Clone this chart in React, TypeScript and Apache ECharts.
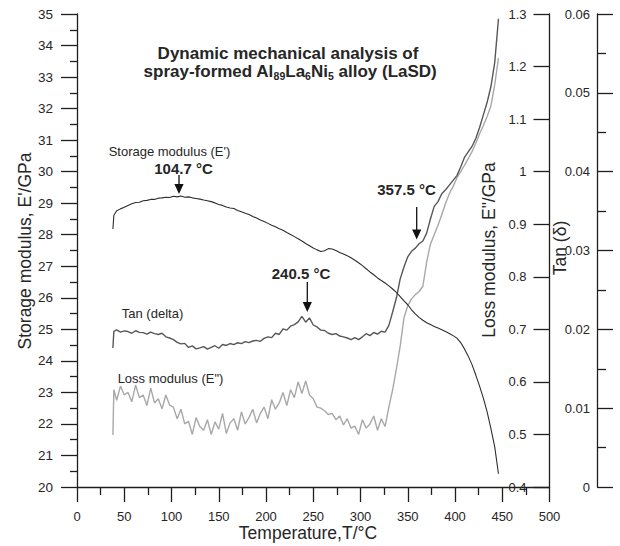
import React, { useEffect, useRef } from "react";
import * as echarts from "echarts";

// Temperature (°C) sample points shared by the three curves
const temps = [
  38, 39, 42, 46, 50, 54, 58, 62, 66, 70, 74, 78, 82, 86, 90, 94, 98, 102, 106, 110,
  114, 118, 122, 126, 130, 134, 138, 142, 146, 150, 154, 158, 162, 166, 170, 174, 178, 182, 186, 190,
  194, 198, 202, 206, 210, 214, 218, 222, 226, 230, 234, 238, 242, 246, 250, 254, 258, 262, 266, 270,
  274, 278, 282, 286, 290, 294, 298, 302, 306, 310, 314, 318, 322, 326, 330, 334, 338, 342, 346, 350,
  354, 358, 362, 366, 370, 374, 378, 382, 386, 390, 394, 398, 402, 406, 410, 414, 418, 422, 426, 430,
  434, 438, 442, 446,
];

// Storage modulus E' (GPa) — left axis
const storageModulus = [
  28.18, 28.62, 28.76, 28.82, 28.87, 28.93, 28.98, 29.02, 29.03, 29.08, 29.09, 29.12, 29.12, 29.16, 29.17, 29.19, 29.18, 29.22, 29.2, 29.23,
  29.19, 29.2, 29.17, 29.15, 29.13, 29.1, 29.08, 29.05, 29.01, 28.96, 28.93, 28.88, 28.85, 28.83, 28.77, 28.73, 28.68, 28.64, 28.58, 28.53,
  28.47, 28.42, 28.36, 28.3, 28.25, 28.19, 28.14, 28.07, 28.01, 27.94, 27.87, 27.8, 27.72, 27.65, 27.58, 27.52, 27.47, 27.49, 27.56, 27.55,
  27.5, 27.44, 27.39, 27.33, 27.27, 27.19, 27.11, 27.02, 26.92, 26.82, 26.73, 26.63, 26.55, 26.47, 26.38, 26.28, 26.17, 26.04, 25.9, 25.78,
  25.62, 25.49, 25.38, 25.29, 25.21, 25.15, 25.09, 25.04, 24.99, 24.93, 24.87, 24.8, 24.72, 24.58, 24.38, 24.15, 23.88, 23.55, 23.2, 22.82,
  22.38, 21.85, 21.28, 20.42,
];

// Tan delta — outer right axis
const tanDelta = [
  0.01763, 0.01975, 0.01992, 0.01965, 0.0198, 0.01972, 0.0195, 0.01982, 0.01962, 0.01958, 0.01938, 0.01965, 0.01945, 0.01935, 0.0195, 0.01905, 0.0189, 0.0187, 0.01835, 0.01815,
  0.01822, 0.0177, 0.0179, 0.01752, 0.01765, 0.0178, 0.01748, 0.0177, 0.01792, 0.0176, 0.01808, 0.01795, 0.0182, 0.01805, 0.0183, 0.01818, 0.01845, 0.01832, 0.01852, 0.0186,
  0.01848, 0.01885, 0.01905, 0.01895, 0.0195, 0.01935, 0.02005, 0.0199, 0.0204, 0.0206, 0.02095, 0.02165, 0.0209, 0.02145, 0.02055, 0.0203, 0.0199, 0.01985, 0.0195, 0.01935,
  0.01945, 0.01915, 0.01905, 0.0189, 0.0187, 0.01895, 0.0187, 0.01905, 0.01945, 0.0192, 0.0196, 0.0194, 0.01975, 0.01965, 0.0205, 0.0222, 0.024, 0.0264, 0.0279, 0.0292,
  0.0299, 0.0303, 0.03085, 0.0312, 0.0322, 0.034, 0.0356, 0.0362, 0.0372, 0.0377, 0.0383, 0.0389, 0.0395, 0.0406, 0.0418, 0.0425, 0.0432, 0.0442, 0.0456, 0.0472,
  0.0488, 0.0508, 0.0538, 0.0594,
];

// Loss modulus E'' (GPa) — inner right axis
const lossModulus = [
  0.499, 0.585, 0.565, 0.592, 0.575, 0.58, 0.562, 0.594, 0.57, 0.575, 0.555, 0.588, 0.56, 0.568, 0.549, 0.575, 0.556, 0.552, 0.53, 0.548,
  0.52, 0.525, 0.5, 0.532, 0.515, 0.508, 0.528, 0.5, 0.524, 0.51, 0.54, 0.502, 0.522, 0.53, 0.508, 0.543, 0.52, 0.532, 0.548, 0.522,
  0.54, 0.552, 0.53, 0.566, 0.548, 0.56, 0.58, 0.555, 0.585, 0.57, 0.6, 0.578, 0.602, 0.575, 0.568, 0.552, 0.55, 0.545, 0.538, 0.54,
  0.528, 0.535, 0.518, 0.53, 0.512, 0.516, 0.5, 0.528, 0.512, 0.52, 0.535, 0.508, 0.53, 0.515, 0.552, 0.585, 0.625, 0.668, 0.722, 0.745,
  0.758, 0.766, 0.772, 0.782, 0.828, 0.862, 0.88, 0.898, 0.918, 0.94, 0.958, 0.972, 0.988, 1.0, 1.012, 1.025, 1.038, 1.054, 1.072, 1.088,
  1.105, 1.125, 1.165, 1.216,
];

const FONT = "'Liberation Sans', Arial, Helvetica, sans-serif";
const AXIS = "#1e1e1e";
const TXT = "#262626";

function txt(x: number, y: number, text: string, size: number, bold = false, rotate = 0): any {
  return {
    type: "text",
    x,
    y,
    rotation: rotate,
    style: {
      text,
      fontSize: size,
      fontWeight: bold ? "bold" : "normal",
      fontFamily: FONT,
      fill: TXT,
      align: "center",
      verticalAlign: "middle",
      textAlign: "center",
      textVerticalAlign: "middle",
    },
  };
}

function arrow(x: number, y0: number, y1: number): any[] {
  return [
    { type: "line", shape: { x1: x, y1: y0, x2: x, y2: y1 - 8 }, style: { stroke: "#111", lineWidth: 1.3 } },
    { type: "polygon", shape: { points: [[x - 4.6, y1 - 10], [x + 4.6, y1 - 10], [x, y1]] }, style: { fill: "#111" } },
  ];
}

export default function App() {
  const ref = useRef<HTMLDivElement>(null);
  useEffect(() => {
    const chart = echarts.init(ref.current!, null, { renderer: "svg" });
    const line = { color: AXIS, width: 1.3 };
    const label = { color: TXT, fontSize: 13, fontFamily: FONT };
    const zip = (vals: number[]) => temps.map((t, i) => [t, vals[i]]);

    chart.setOption({
      animation: false,
      grid: { left: 77, right: 70.5, top: 14, bottom: 59 },
      xAxis: {
        type: "value",
        min: 0,
        max: 500,
        interval: 50,
        axisLine: { show: true, onZero: false, lineStyle: line },
        axisTick: { show: true, length: 15, lineStyle: line },
        minorTick: { show: true, splitNumber: 2, length: 8, lineStyle: line },
        splitLine: { show: false },
        axisLabel: { ...label, margin: 23 },
      },
      yAxis: [
        {
          type: "value",
          position: "left",
          min: 20,
          max: 35,
          interval: 1,
          axisLine: { show: true, onZero: false, lineStyle: line },
          axisTick: { show: true, length: 16, lineStyle: line },
          minorTick: { show: true, splitNumber: 2, length: 7, lineStyle: line },
          splitLine: { show: false },
          axisLabel: { ...label, fontSize: 13.5, margin: 24 },
        },
        {
          type: "value",
          position: "right",
          min: 0.4,
          max: 1.3,
          interval: 0.1,
          axisLine: { show: true, onZero: false, lineStyle: line },
          axisTick: { show: true, inside: true, length: 16, lineStyle: line },
          splitLine: { show: false },
          axisLabel: { ...label, inside: true, margin: 23 },
        },
        {
          type: "value",
          position: "right",
          offset: 47.5,
          min: 0,
          max: 0.06,
          interval: 0.01,
          axisLine: { show: true, onZero: false, lineStyle: line },
          axisTick: { show: true, length: 16, lineStyle: line },
          minorTick: { show: true, splitNumber: 2, length: 9, lineStyle: line },
          splitLine: { show: false },
          axisLabel: { ...label, inside: true, margin: 7 },
        },
      ],
      series: [
        {
          name: "Loss modulus (E\")",
          type: "line",
          yAxisIndex: 1,
          data: zip(lossModulus),
          showSymbol: false,
          lineStyle: { color: "#a8a8a8", width: 1.4 },
          itemStyle: { color: "#a8a8a8" },
        },
        {
          name: "Tan (delta)",
          type: "line",
          yAxisIndex: 2,
          data: zip(tanDelta),
          showSymbol: false,
          lineStyle: { color: "#575757", width: 1.4 },
          itemStyle: { color: "#575757" },
        },
        {
          name: "Storage modulus (E')",
          type: "line",
          yAxisIndex: 0,
          data: zip(storageModulus),
          showSymbol: false,
          lineStyle: { color: "#2e2e2e", width: 1.1 },
          itemStyle: { color: "#2e2e2e" },
        },
      ],
      graphic: [
        txt(288, 53, "Dynamic mechanical analysis of", 17, true),
        {
          type: "text",
          x: 290,
          y: 71,
          style: {
            text: "spray-formed Al{sub|89}La{sub|6}Ni{sub|5} alloy (LaSD)",
            fontSize: 17,
            fontWeight: "bold",
            fontFamily: FONT,
            fill: TXT,
            lineHeight: 20,
            align: "center",
            verticalAlign: "middle",
            textAlign: "center",
            textVerticalAlign: "middle",
            rich: {
              sub: { fontSize: 10.5, fontWeight: "bold", fontFamily: FONT, fill: TXT, lineHeight: 10, verticalAlign: "bottom" },
            },
          },
        },
        txt(25, 251, "Storage modulus, E'/GPa", 17.5, false, Math.PI / 2),
        txt(489, 250, "Loss modulus, E\"/GPa", 17.5, false, Math.PI / 2),
        txt(560, 248, "Tan (δ)", 17.5, false, Math.PI / 2),
        txt(308, 533, "Temperature,T/°C", 17.5),
        txt(169.5, 151.5, "Storage modulus (E')", 13),
        txt(183.5, 168, "104.7 °C", 15, true),
        ...arrow(179, 175, 194),
        txt(152.5, 313, "Tan (delta)", 13),
        txt(170.5, 378, "Loss modulus (E\")", 13),
        txt(301, 273, "240.5 °C", 15, true),
        ...arrow(307.3, 282, 312),
        txt(406.5, 189, "357.5 °C", 15, true),
        ...arrow(416.7, 207, 239.5),
      ],
    });
    return () => chart.dispose();
  }, []);
  return (
    <div
      ref={ref}
      style={{ position: "fixed", left: 0, top: 0, width: 620, height: 546, background: "#fff" }}
    />
  );
}
